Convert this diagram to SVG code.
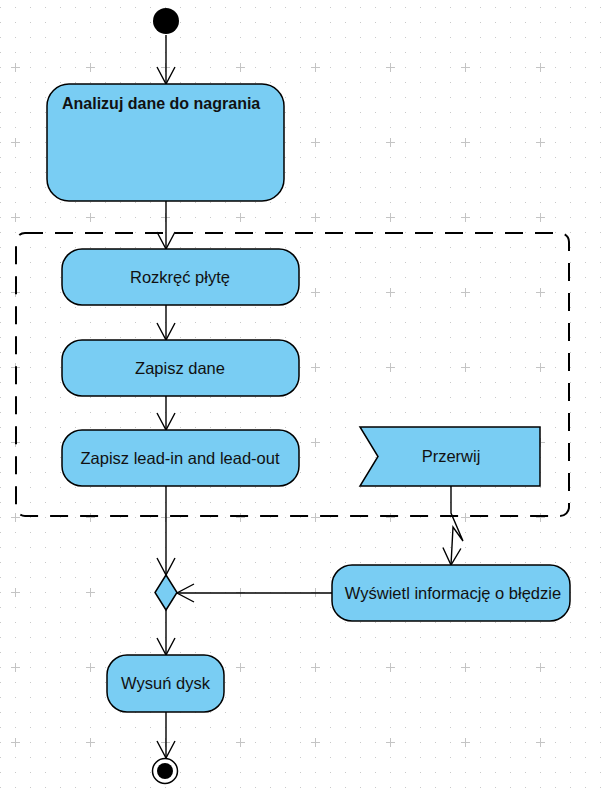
<svg xmlns="http://www.w3.org/2000/svg" width="607" height="792" viewBox="0 0 607 792">
<defs>
<pattern id="dots" x="0" y="7" width="15" height="15" patternUnits="userSpaceOnUse">
<rect x="0" y="0" width="1" height="1" fill="#c8c8c8"/>
</pattern>
<pattern id="cross" x="11" y="63" width="75" height="75" patternUnits="userSpaceOnUse">
<path d="M0 4.5H9M4.5 0V9" stroke="#c4c4c4" stroke-width="1" fill="none"/>
</pattern>
<marker id="arr" viewBox="0 0 20 20" refX="18" refY="10" markerWidth="20" markerHeight="20" markerUnits="userSpaceOnUse" orient="auto-start-reverse">
<path d="M1 1 L18 10 L1 19" fill="none" stroke="#000" stroke-width="1.4"/>
</marker>
<style>
.act{fill:#79cdf3;stroke:#000;stroke-width:1.5}
.t{font-family:"Liberation Sans",Arial,sans-serif;font-size:16.5px;fill:#111;text-anchor:middle}
.c{fill:none;stroke:#000;stroke-width:1.4}
</style>
</defs>
<rect width="607" height="792" fill="#fff"/>
<rect width="607" height="792" fill="url(#dots)"/>
<rect x="10" y="60" width="597" height="732" fill="url(#cross)"/>

<g id="region">
<rect x="16" y="233" width="553" height="283" rx="9" fill="none" stroke="#000" stroke-width="2" stroke-dasharray="18 12"/>
</g>

<g id="connectors">
<path class="c" d="M166 35V84" marker-end="url(#arr)"/>
<path class="c" d="M166 201V249" marker-end="url(#arr)"/>
<path class="c" d="M166 305V340" marker-end="url(#arr)"/>
<path class="c" d="M166 396V430" marker-end="url(#arr)"/>
<path class="c" d="M166 486V575" marker-end="url(#arr)"/>
<path class="c" d="M166 610V655" marker-end="url(#arr)"/>
<path class="c" d="M166 712V758" marker-end="url(#arr)"/>
<path class="c" d="M332 593H177" marker-end="url(#arr)"/>
<path class="c" d="M451 486V513L463 541L453 527L451 565" marker-end="url(#arr)"/>
</g>

<g id="start"><circle cx="166" cy="21" r="13" fill="#000"/></g>

<g id="analizuj">
<rect class="act" x="47" y="84" width="237" height="117" rx="22"/>
<text x="62" y="109" font-family="Liberation Sans,Arial,sans-serif" font-size="16" font-weight="bold" fill="#111">Analizuj dane do nagrania</text>
</g>

<g id="rozkrec">
<rect class="act" x="62" y="249" width="237" height="56" rx="20"/>
<text class="t" x="180" y="283">Rozkręć płytę</text>
</g>

<g id="zapisz">
<rect class="act" x="62" y="340" width="237" height="56" rx="20"/>
<text class="t" x="180" y="374">Zapisz dane</text>
</g>

<g id="leadin">
<rect class="act" x="62" y="430" width="237" height="56" rx="20"/>
<text class="t" x="180" y="464">Zapisz lead-in and lead-out</text>
</g>

<g id="przerwij">
<path class="act" d="M360 427H540V486H360L378 456.5Z"/>
<text class="t" x="451" y="462">Przerwij</text>
</g>

<g id="wyswietl">
<rect class="act" x="332" y="565" width="238" height="56" rx="20"/>
<text class="t" x="453" y="599">Wyświetl informację o błędzie</text>
</g>

<g id="merge">
<path class="act" d="M166 575L177 592.5L166 610L155 592.5Z"/>
</g>

<g id="wysun">
<rect class="act" x="107" y="655" width="117" height="57" rx="20"/>
<text class="t" x="165.5" y="689">Wysuń dysk</text>
</g>

<g id="end">
<circle cx="165" cy="771" r="12.5" fill="#fff" stroke="#000" stroke-width="1.5"/>
<circle cx="165" cy="771" r="8" fill="#000"/>
</g>
</svg>
